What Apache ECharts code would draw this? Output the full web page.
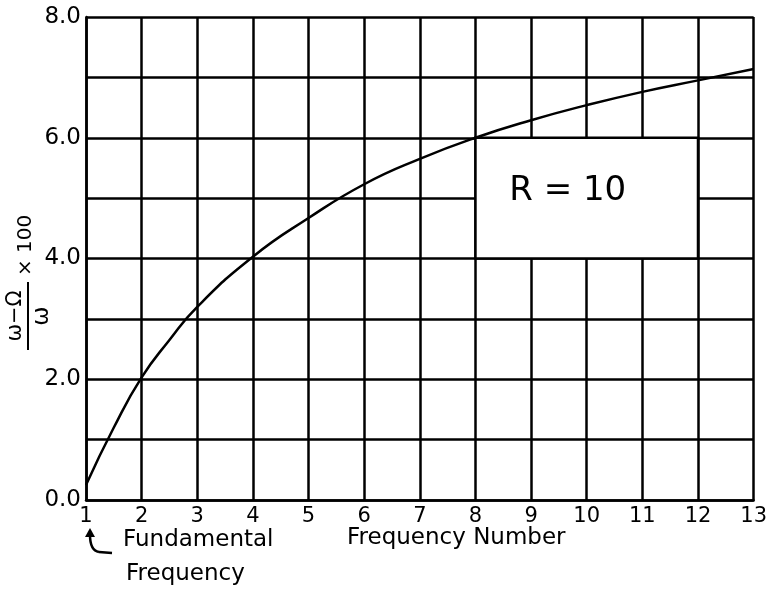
<!DOCTYPE html>
<html>
<head>
<meta charset="utf-8">
<script src="https://cdn.jsdelivr.net/npm/echarts@6/dist/echarts.min.js"></script>
<style>
  html, body { margin: 0; padding: 0; background: #fff; }
  #chart { width: 770px; height: 590px; }
</style>
</head>
<body>
<div id="chart"></div>
<script>
// ---- data ----
const frequencyNumbers = [1, 1.5, 2, 2.5, 3, 4, 5, 6, 7, 8, 9, 10, 11, 12, 13];
const percentValues = [0.25, 1.2, 2.03, 2.65, 3.2, 4.03, 4.67, 5.23, 5.65, 6.0, 6.29, 6.54, 6.76, 6.95, 7.14];
const yTickLabels = ['0.0', '', '2.0', '', '4.0', '', '6.0', '', '8.0'];
const xTickLabels = ['1', '2', '3', '4', '5', '6', '7', '8', '9', '10', '11', '12', '13'];
const boxRange = { x: [8, 12], y: [4, 6] };
const boxText = 'R = 10';

const FONT = 'DejaVu Sans';
const chart = echarts.init(document.getElementById('chart'), null, { renderer: 'canvas' });

function txt(left, top, text, size) {
  return {
    type: 'text', left: left, top: top,
    style: { text: text, fill: '#000', fontFamily: FONT, fontSize: size }
  };
}

const option = {
  backgroundColor: '#ffffff',
  animation: false,
  grid: { left: 86, right: 11, top: 17, bottom: 90, containLabel: false },
  xAxis: {
    type: 'value', min: 1, max: 13, interval: 1,
    axisLine: { show: true, lineStyle: { color: '#000', width: 2.5 } },
    axisTick: { show: false },
    axisLabel: {
      color: '#000', fontFamily: FONT, fontSize: 21, margin: 6,
      formatter: v => xTickLabels[v - 1] || ''
    },
    splitLine: { show: true, lineStyle: { color: '#000', width: 2.5 } }
  },
  yAxis: {
    type: 'value', min: 0, max: 8, interval: 1,
    axisLine: { show: true, lineStyle: { color: '#000', width: 2.5 } },
    axisTick: { show: false },
    axisLabel: {
      color: '#000', fontFamily: FONT, fontSize: 23, margin: 5,
      formatter: v => yTickLabels[v] || ''
    },
    splitLine: { show: true, lineStyle: { color: '#000', width: 2.5 } }
  },
  series: [{
    type: 'line',
    data: frequencyNumbers.map((x, i) => [x, percentValues[i]]),
    smooth: 0.5,
    showSymbol: false,
    lineStyle: { color: '#000', width: 2.5 },
    z: 5,
    markArea: {
      silent: true,
      itemStyle: { color: '#ffffff', opacity: 1, borderColor: '#000', borderWidth: 2.5 },
      label: {
        show: true, position: 'inside', offset: [-19, -7],
        formatter: boxText,
        color: '#000', fontFamily: FONT, fontSize: 34
      },
      data: [[
        { coord: [boxRange.x[0], boxRange.y[1]] },
        { coord: [boxRange.x[1], boxRange.y[0]] }
      ]]
    }
  }],
  graphic: [
    txt(347, 527, 'Frequency Number', 23),
    txt(123, 529, 'Fundamental', 23),
    txt(126, 563, 'Frequency', 23),
    {
      type: 'line',
      shape: { x1: 112, y1: 553, x2: 99, y2: 552 },
      style: { stroke: '#000', lineWidth: 2.5 }
    },
    {
      type: 'bezierCurve',
      shape: { x1: 99, y1: 552, cpx1: 93, cpy1: 551, cpx2: 90, cpy2: 545, x2: 90, y2: 535 },
      style: { stroke: '#000', lineWidth: 2.5, fill: null }
    },
    {
      type: 'polygon',
      shape: { points: [[90, 528], [85, 537], [95, 537]] },
      style: { fill: '#000' }
    },
    {
      type: 'group',
      x: 28, y: 316, rotation: Math.PI / 2,
      children: [
        { type: 'line', shape: { x1: -34, y1: 0, x2: 34, y2: 0 }, style: { stroke: '#000', lineWidth: 2 } },
        { type: 'text', x: 0, y: -12, style: { text: 'ω−Ω', fill: '#000', fontFamily: FONT, fontSize: 21, align: 'center', verticalAlign: 'middle' } },
        { type: 'text', x: 0, y: 14, style: { text: 'ω', fill: '#000', fontFamily: FONT, fontSize: 23, align: 'center', verticalAlign: 'middle' } },
        { type: 'text', x: 40, y: -2, style: { text: '× 100', fill: '#000', fontFamily: FONT, fontSize: 20, align: 'left', verticalAlign: 'middle' } }
      ]
    }
  ]
};
chart.setOption(option);
</script>
</body>
</html>
